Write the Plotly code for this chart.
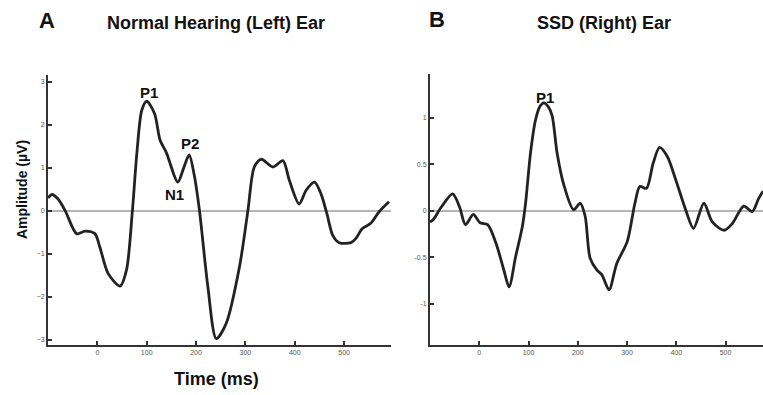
import plotly.graph_objects as go

# Panel A: Normal Hearing (Left) Ear
time_a = [-100, -92, -80, -65, -42, -25, -5, 5, 22, 46, 59, 71, 80, 90, 100, 116, 127, 140,
          163, 175, 186, 196, 207, 224, 241, 261, 288, 305, 318, 332, 356, 376, 389, 409,
          423, 440, 453, 465, 477, 490, 514, 524, 537, 554, 571, 591]
amp_a = [0.30, 0.38, 0.28, 0.00, -0.53, -0.47, -0.53, -0.84, -1.46, -1.75, -1.38, 0.00, 1.33,
         2.34, 2.55, 2.26, 1.65, 1.35, 0.67, 1.00, 1.30, 0.85, 0.00, -1.77, -2.97, -2.62, -1.30,
         0.00, 1.02, 1.20, 1.02, 1.17, 0.71, 0.16, 0.48, 0.67, 0.40, -0.06, -0.57, -0.74,
         -0.74, -0.64, -0.41, -0.29, -0.02, 0.21]

# Panel B: SSD (Right) Ear
time_b = [-100, -94, -77, -54, -40, -28, -12, 1.5, 17, 34, 50, 60.5, 74, 87.5, 94, 104, 114,
          123, 131, 140, 148, 158, 171, 191.5, 205, 215, 225, 239, 249, 263.5, 279, 300.5, 316,
          326, 339.5, 353, 366, 382, 399, 419, 435, 456, 473, 497, 513.5, 537, 554, 567, 576]
amp_b = [-0.12, -0.10, 0.04, 0.18, 0.04, -0.15, -0.04, -0.13, -0.15, -0.35, -0.64, -0.82,
         -0.49, -0.17, 0.08, 0.62, 0.97, 1.12, 1.16, 1.12, 1.02, 0.62, 0.29, 0.01, 0.08, -0.06,
         -0.51, -0.64, -0.69, -0.85, -0.57, -0.33, 0.08, 0.26, 0.24, 0.51, 0.68, 0.58, 0.33,
         0.01, -0.19, 0.08, -0.12, -0.21, -0.14, 0.05, -0.01, 0.13, 0.21]

x_ticks = [0, 100, 200, 300, 400, 500]
y_ticks_a = [-3, -2, -1, 0, 1, 2, 3]
y_ticks_b = [-1, -0.5, 0, 0.5, 1]
y_ticklabels_b = ["-1", "-0.5", "0", "0.5", "1"]

W, H = 763, 395
FONT = "Liberation Sans, Arial, sans-serif"
LINE = "#222222"

fig = go.Figure()
fig.add_trace(go.Scatter(x=time_a, y=amp_a, mode="lines", xaxis="x", yaxis="y",
                         line=dict(color=LINE, width=2.8, shape="spline", smoothing=0.8),
                         showlegend=False, hoverinfo="skip"))
fig.add_trace(go.Scatter(x=time_b, y=amp_b, mode="lines", xaxis="x2", yaxis="y2",
                         line=dict(color=LINE, width=2.8, shape="spline", smoothing=0.8),
                         showlegend=False, hoverinfo="skip"))

def xa(px):
    return px / W

def ya(py):
    return 1 - py / H

axis_common = dict(showgrid=False, showline=True, linecolor="#333333", linewidth=2,
                   ticks="inside", ticklen=4, tickwidth=1.5, tickcolor="#333333",
                   tickfont=dict(family=FONT, size=7, color="#555555"),
                   zeroline=False, fixedrange=True)

fig.update_layout(
    width=W, height=H, margin=dict(l=0, r=0, t=0, b=0),
    paper_bgcolor="white", plot_bgcolor="white",
    xaxis=dict(axis_common, domain=[xa(48), xa(391)], range=[-100, 595],
               tickvals=x_ticks, anchor="y"),
    yaxis=dict(axis_common, domain=[ya(345), ya(75)], range=[-3.12, 3.16],
               tickvals=y_ticks_a, zeroline=True, zerolinecolor="#b5b5b5",
               zerolinewidth=2, anchor="x"),
    xaxis2=dict(axis_common, domain=[xa(430), 1.0], range=[-100, 576],
                tickvals=x_ticks, anchor="y2"),
    yaxis2=dict(axis_common, domain=[ya(345), ya(74)], range=[-1.444, 1.47],
                tickvals=y_ticks_b, ticktext=y_ticklabels_b, zeroline=True,
                zerolinecolor="#b5b5b5", zerolinewidth=2, anchor="x2"),
)

annotations = [
    dict(text="<b>A</b>", x=xa(47), y=ya(20), size=22),
    dict(text="<b>Normal Hearing (Left) Ear</b>", x=xa(216), y=ya(23), size=18),
    dict(text="<b>B</b>", x=xa(437), y=ya(19), size=22),
    dict(text="<b>SSD (Right) Ear</b>", x=xa(604), y=ya(23), size=18),
    dict(text="<b>Time (ms)</b>", x=xa(216), y=ya(379), size=18),
]
for a in annotations:
    fig.add_annotation(text=a["text"], x=a["x"], y=a["y"], xref="paper", yref="paper",
                       showarrow=False, xanchor="center", yanchor="middle",
                       font=dict(family=FONT, size=a["size"], color="#111111"))

fig.add_annotation(text="<b>Amplitude (µV)</b>", x=xa(22), y=ya(190), xref="paper",
                   yref="paper", showarrow=False, textangle=-90, xanchor="center",
                   yanchor="middle", font=dict(family=FONT, size=14, color="#111111"))

# Peak labels (data coordinates)
peak_labels = [("P1", 104, 2.76, "x", "y"), ("P2", 187, 1.57, "x", "y"),
               ("N1", 157, 0.37, "x", "y"), ("P1", 133, 1.22, "x2", "y2")]
for txt, tx, ty, xr, yr in peak_labels:
    fig.add_annotation(text=f"<b>{txt}</b>", x=tx, y=ty, xref=xr, yref=yr,
                       showarrow=False, xanchor="center", yanchor="middle",
                       font=dict(family=FONT, size=15, color="#111111"))

fig.write_html("out.html", config={"displayModeBar": False},
               post_script="document.body.style.margin='0';")
